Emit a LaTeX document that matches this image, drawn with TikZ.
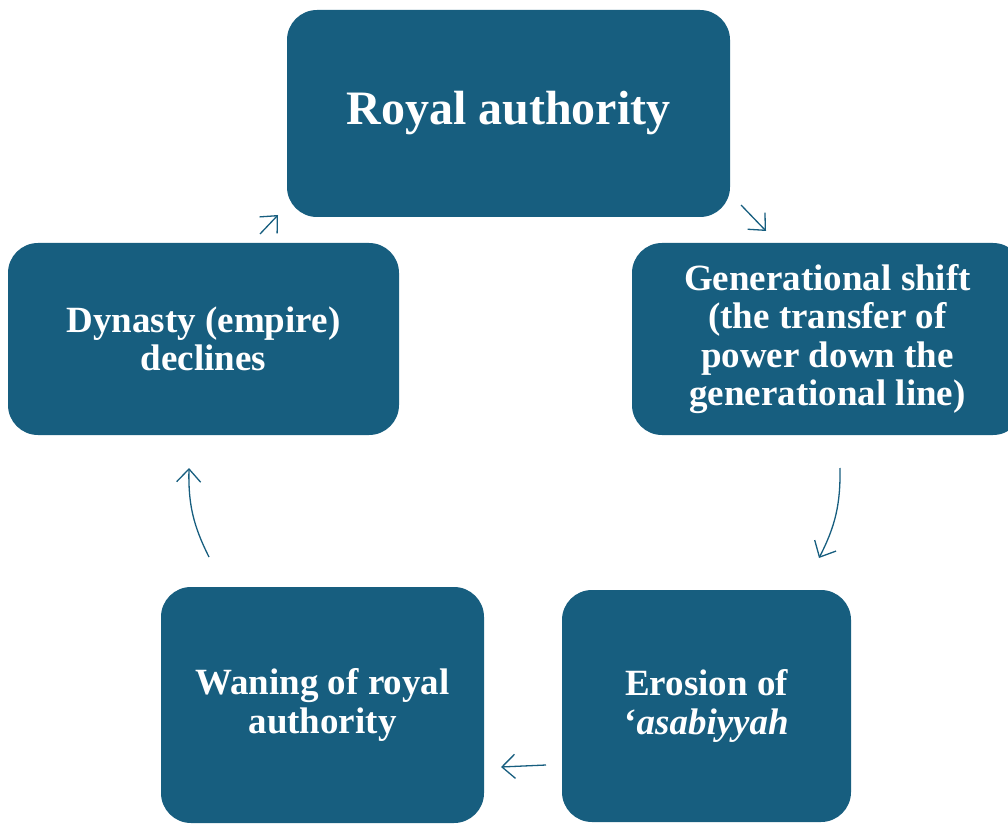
\documentclass[tikz,border=0pt]{standalone}
\usepackage{fontspec}
\setmainfont{Liberation Serif}
\usetikzlibrary{arrows.meta}
\definecolor{teal}{HTML}{175E7F}
\begin{document}
\begin{tikzpicture}[x=1pt,y=1pt,
  box/.style={fill=teal,draw=none,rounded corners=30pt,text=white,
    font=\bfseries\fontsize{37}{38.5}\selectfont,align=center,inner sep=0pt},
  conn/.style={draw=teal,line width=1.3pt,-{Straight Barb[length=13pt,width=24pt,line width=1.3pt]}}]
\useasboundingbox (0,0) rectangle (1008,823);
\begin{scope}
\clip (0,0) rectangle (1008,823);
\node[box,minimum width=443pt,minimum height=207pt,font=\bfseries\fontsize{48}{50}\selectfont] (top) at (508.5,709.5) {Royal authority};
\node[box,minimum width=391pt,minimum height=192pt] (right) at (827.5,484) {Generational shift\\(the transfer of\\power down the\\generational line)};
\node[box,minimum width=391pt,minimum height=192pt] (left) at (203.5,484) {Dynasty (empire)\\declines};
\node[box,minimum width=323pt,minimum height=236pt] (bl) at (322.5,118) {Waning of royal\\authority};
\node[box,minimum width=289pt,minimum height=232pt] (br) at (706.5,117) {Erosion of\\‘\textit{asabiyyah}};
\end{scope}
\coordinate (a1s) at (260,589); \coordinate (a1e) at (278,608);
\coordinate (a2s) at (741,618); \coordinate (a2e) at (766,592);
\coordinate (a3s) at (840,355); \coordinate (a3e) at (819,265);
\coordinate (a4s) at (209,266); \coordinate (a4e) at (189,355);
\coordinate (a5s) at (546,58);  \coordinate (a5e) at (501,56);
\draw[conn] (a1s) -- (a1e);
\draw[conn] (a2s) -- (a2e);
\draw[conn] (a3s) to[bend left=14] (a3e);
\draw[conn] (a4s) to[bend left=14] (a4e);
\draw[conn] (a5s) -- (a5e);
\end{tikzpicture}
\end{document}
